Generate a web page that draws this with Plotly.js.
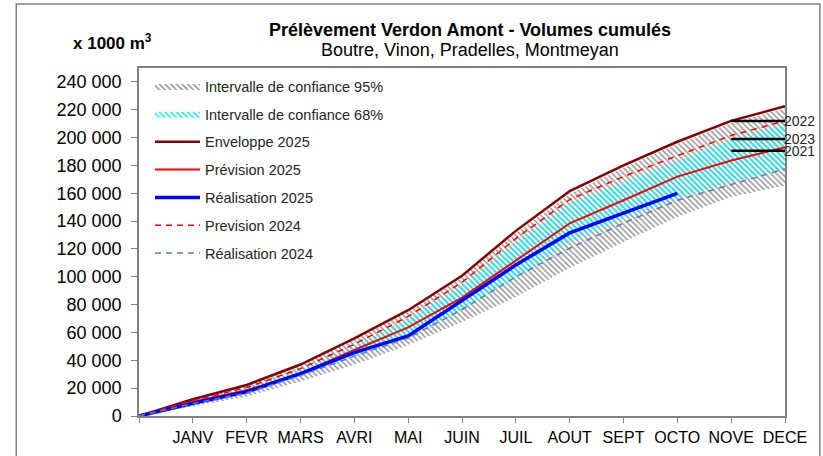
<!DOCTYPE html>
<html>
<head>
<meta charset="utf-8">
<script src="https://cdn.plot.ly/plotly-3.0.1.min.js"></script>
<style>
  html, body { margin:0; padding:0; background:#ffffff; }
  #chart { width:823px; height:456px; }
</style>
</head>
<body>
<div id="chart"></div>
<script>

/* ==========================================
   DATA
========================================== */

const monthIdx = [0,1,2,3,4,5,6,7,8,9,10,11,12];

const monthLabels = ["JANV","FEVR","MARS","AVRI","MAI","JUIN","JUIL","AOUT","SEPT","OCTO","NOVE","DECE"];

const upper95 = [0, 11800, 22000, 36500, 55000, 75000, 99500, 131500, 159500, 178500, 195500, 210500, 221000];
const lower95 = [0, 7200, 13900, 24700, 36800, 51000, 67500, 85500, 106300, 125000, 143000, 157300, 165500];

const upper68 = [0, 10800, 20000, 33000, 50000, 69500, 93500, 124500, 152500, 167500, 183000, 198500, 209500];
const lower68 = [0, 9000, 16500, 28500, 43000, 56500, 76500, 99000, 125000, 142000, 156500, 168500, 177500];

const enveloppe2025 = [0, 12000, 22300, 37000, 55800, 76000, 100800, 133000, 161500, 180000, 197000, 212000, 222500];
const prevision2025 = [0, 10000, 18500, 30500, 47400, 63700, 85000, 111500, 138400, 155000, 172000, 183500, 193000];
const realisation2025 = [0, 9200, 17400, 30500, 45500, 57500, 83000, 108500, 131500, 146000, 160000];

const prevision2024 = [0, 11000, 20500, 34000, 51500, 71500, 96000, 127500, 155500, 172000, 187000, 201500, 212000];
const realisation2024 = [0, 9000, 16500, 29000, 43000, 56000, 76500, 100000, 120500, 138500, 155000, 166500, 177500];

const refYears = ["2022","2023","2021"];
const refValues = [212000, 199000, 190500];
const refRange = [11, 12];


/* ==========================================
   TRACES
========================================== */

const FONT = "Liberation Sans, Arial, sans-serif";

let traces = [];

// 95% band
traces.push({
    x:monthIdx, y:lower95, mode:"lines", line:{width:0},
    showlegend:false, hoverinfo:"skip", legendgroup:"g1"
});
traces.push({
    x:monthIdx, y:upper95, mode:"lines", line:{width:0},
    fill:"tonexty",
    fillcolor:"rgba(0,0,0,0)",
    fillpattern:{shape:"\\", fgcolor:"#8c8c8c", bgcolor:"rgba(255,255,255,0)", size:4, solidity:0.35},
    name:"Intervalle de confiance 95%", legendgroup:"g1"
});

// 68% band
traces.push({
    x:monthIdx, y:lower68, mode:"lines", line:{width:0},
    showlegend:false, hoverinfo:"skip", legendgroup:"g2"
});
traces.push({
    x:monthIdx, y:upper68, mode:"lines", line:{width:0},
    fill:"tonexty",
    fillcolor:"rgba(0,0,0,0)",
    fillpattern:{shape:"\\", fgcolor:"#1ee8f2", bgcolor:"rgba(255,255,255,0)", size:4, solidity:0.4},
    name:"Intervalle de confiance 68%", legendgroup:"g2"
});

traces.push({
    x:monthIdx, y:enveloppe2025, mode:"lines",
    line:{color:"#7f0000", width:2.5},
    name:"Enveloppe 2025", legendgroup:"g3"
});

traces.push({
    x:monthIdx, y:prevision2025, mode:"lines",
    line:{color:"#ff0000", width:2},
    name:"Prévision 2025", legendgroup:"g4"
});

traces.push({
    x:monthIdx.slice(0, realisation2025.length), y:realisation2025, mode:"lines",
    line:{color:"#0000ff", width:3.5},
    name:"Réalisation 2025", legendgroup:"g5"
});

traces.push({
    x:monthIdx, y:prevision2024, mode:"lines",
    line:{color:"#ff0000", width:1.5, dash:"6px,5px"},
    name:"Prevision 2024", legendgroup:"g6"
});

traces.push({
    x:monthIdx, y:realisation2024, mode:"lines",
    line:{color:"#4f81bd", width:1.5, dash:"6px,5px"},
    name:"Réalisation 2024", legendgroup:"g7"
});

// reference years (black lines)
refValues.forEach((v, i)=>{
    traces.push({
        x:refRange, y:[v, v], mode:"lines",
        line:{color:"#000000", width:2.5},
        showlegend:false, hoverinfo:"skip"
    });
});


/* ==========================================
   ANNOTATIONS
========================================== */

let annotations = refYears.map((yr, i)=>({
    x:refRange[1], y:refValues[i], xref:"x", yref:"y",
    text:yr, showarrow:false, xanchor:"left", yanchor:"middle",
    xshift:-3, font:{family:FONT, size:14, color:"#262626"}
}));

annotations.push({
    x:0.512, y:1.109, xref:"paper", yref:"paper",
    text:"<b>Prélèvement Verdon Amont - Volumes cumulés</b>",
    showarrow:false, xanchor:"center", yanchor:"middle",
    font:{family:FONT, size:18, color:"#000000"}
});

annotations.push({
    x:0.512, y:1.052, xref:"paper", yref:"paper",
    text:"Boutre, Vinon, Pradelles, Montmeyan",
    showarrow:false, xanchor:"center", yanchor:"middle",
    font:{family:FONT, size:18, color:"#000000"}
});

annotations.push({
    x:-0.041, y:1.075, xref:"paper", yref:"paper",
    text:"<b>x 1000 m<sup>3</sup></b>",
    showarrow:false, xanchor:"center", yanchor:"middle",
    font:{family:FONT, size:17, color:"#000000"}
});


/* ==========================================
   LAYOUT
========================================== */

const layout = {
    width:823,
    height:456,
    margin:{l:139, r:38, t:68, b:40},
    paper_bgcolor:"#ffffff",
    plot_bgcolor:"#ffffff",
    separators:", ",
    font:{family:FONT, size:16, color:"#000000"},
    showlegend:true,
    legend:{
        x:0.017, y:0.994, xanchor:"left", yanchor:"top",
        bgcolor:"rgba(255,255,255,0)",
        font:{family:FONT, size:14.5, color:"#262626"},
        tracegroupgap:6,
        itemwidth:45
    },
    xaxis:{
        range:[0,12],
        tickvals:monthIdx.slice(1),
        ticktext:monthLabels,
        ticks:"outside", ticklen:5, tickcolor:"#808080",
        minor:{ticks:"outside", ticklen:5, tickcolor:"#808080", tickvals:[0], showgrid:false},
        showline:true, linecolor:"#808080", linewidth:1.5, mirror:true,
        showgrid:false, zeroline:false,
        tickfont:{family:FONT, size:16, color:"#000000"},
        ticklabelstandoff:1
    },
    yaxis:{
        range:[0,250000],
        tick0:0, dtick:20000,
        tickformat:",d",
        ticks:"outside", ticklen:6, tickcolor:"#808080",
        showline:true, linecolor:"#808080", linewidth:1.5, mirror:true,
        showgrid:false, zeroline:false,
        tickfont:{family:FONT, size:18, color:"#000000"},
        ticklabelstandoff:6
    },
    shapes:[
        {
            type:"rect", xref:"paper", yref:"paper",
            x0:-0.190, x1:1.054, y0:-0.15, y1:1.184,
            line:{color:"#808080", width:1.5},
            fillcolor:"rgba(0,0,0,0)", layer:"below"
        }
    ],
    annotations:annotations
};

Plotly.newPlot("chart", traces, layout, {displayModeBar:false, responsive:false});

</script>
</body>
</html>
